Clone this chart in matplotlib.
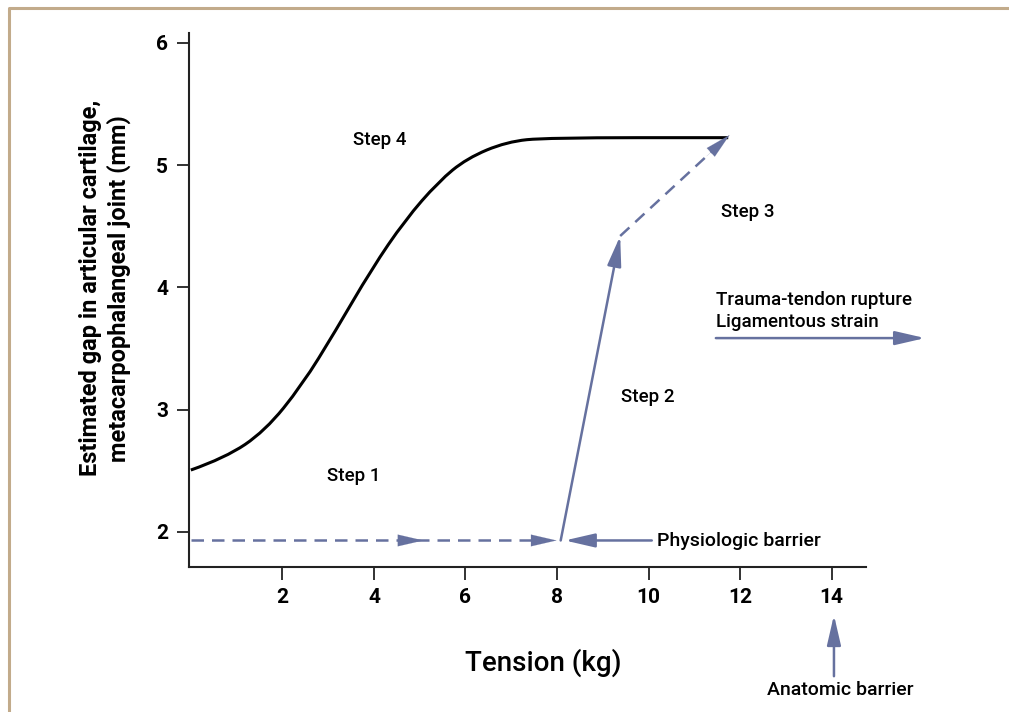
import matplotlib.pyplot as plt
from matplotlib.lines import Line2D
from matplotlib.path import Path
from matplotlib.patches import PathPatch

# curve (tension kg, gap mm)
tension = [0.0, 0.75, 1.62, 2.43, 3.15, 3.95, 4.68, 5.41, 6.03, 6.90, 7.78, 11.74]
gap = [2.506, 2.605, 2.825, 3.201, 3.637, 4.150, 4.550, 4.864, 5.055, 5.191, 5.224, 5.224]

# step path
step1_y = 1.93
step1_x = [0.0, 5.08, 7.99]
step2 = [(8.08, 1.93), (9.38, 4.42)]
step3 = [(9.38, 4.42), (11.77, 5.246)]

x_ticks = [2, 4, 6, 8, 10, 12, 14]
y_ticks = [2, 3, 4, 5, 6]

steps = {"Step 1": (3.57, 2.46), "Step 2": (9.99, 3.10), "Step 3": (12.17, 4.62), "Step 4": (4.13, 5.205)}

blue = "#66719f"
plt.rcParams['font.family'] = ['Roboto', 'DejaVu Sans']

fig = plt.figure(figsize=(10.09, 7.12), dpi=100)
ax = fig.add_axes([189 / 1009, 1 - 567 / 712, (866 - 189) / 1009, (567 - 33) / 712])

# smooth curve: read points used as quadratic bezier controls
pts = list(zip(tension, gap))
verts = [pts[0]]
codes = [Path.MOVETO]
for i in range(1, len(pts) - 1):
    mid = ((pts[i][0] + pts[i + 1][0]) / 2, (pts[i][1] + pts[i + 1][1]) / 2)
    verts += [pts[i], mid]
    codes += [Path.CURVE3, Path.CURVE3]
verts.append(pts[-1])
codes.append(Path.LINETO)
ax.add_patch(PathPatch(Path(verts, codes), fill=False, edgecolor="black", lw=2.2, capstyle="butt"))

head = "-|>,head_length=1.3,head_width=0.3"
ms = 14

# step 1 : dashed with two heads
ax.plot([step1_x[0], step1_x[2] - 0.3], [step1_y, step1_y], color=blue, lw=1.8, dashes=(5, 3.2))
for tip in step1_x[1:]:
    ax.annotate("", xy=(tip, step1_y), xytext=(tip - 0.5, step1_y),
                arrowprops=dict(arrowstyle=head, color=blue, lw=0.1, mutation_scale=ms,
                                shrinkA=0, shrinkB=0))

# step 2 : solid
ax.annotate("", xy=step2[1], xytext=step2[0],
            arrowprops=dict(arrowstyle=head, color=blue, lw=1.8, mutation_scale=ms, shrinkA=0, shrinkB=0))

# step 3 : dashed
ax.plot([step3[0][0], step3[1][0] - 0.3], [step3[0][1], step3[1][1] - 0.104], color=blue, lw=1.8,
        dashes=(5, 3.2))
ax.annotate("", xy=step3[1], xytext=(step3[1][0] - 0.5, step3[1][1] - 0.173),
            arrowprops=dict(arrowstyle=head, color=blue, lw=0.1, mutation_scale=ms, shrinkA=0, shrinkB=0))

# physiologic barrier
ax.annotate("", xy=(8.17, 1.93), xytext=(10.07, 1.93),
            arrowprops=dict(arrowstyle=head, color=blue, lw=1.8, mutation_scale=ms, shrinkA=0, shrinkB=0))
ax.text(10.18, 1.925, "Physiologic barrier", fontsize=14, fontweight="medium", va="center", ha="left")

# trauma arrow (outside the axes on the right)
ax.annotate("", xy=(16.04, 3.585), xytext=(11.47, 3.585), annotation_clip=False,
            arrowprops=dict(arrowstyle=head, color=blue, lw=1.8, mutation_scale=ms, shrinkA=0, shrinkB=0))
ax.text(11.47, 3.896, "Trauma-tendon rupture", fontsize=13.5, fontweight="medium", va="center", ha="left")
ax.text(11.47, 3.716, "Ligamentous strain", fontsize=13.5, fontweight="medium", va="center", ha="left")

# anatomic barrier
ax.annotate("", xy=(14.05, 1.32), xytext=(14.05, 0.82), annotation_clip=False,
            arrowprops=dict(arrowstyle=head, color=blue, lw=1.8, mutation_scale=ms, shrinkA=0, shrinkB=0))
ax.text(14.18, 0.706, "Anatomic barrier", fontsize=14, fontweight="medium", va="center", ha="center")

for name, (sx, sy) in steps.items():
    ax.text(sx, sy, name, fontsize=13.5, fontweight="medium", ha="center", va="center")

ax.set_xlim(-0.04, 14.75)
ax.set_ylim(1.713, 6.08)
ax.set_xticks(x_ticks)
ax.set_yticks(y_ticks)
ax.tick_params(length=9, width=1.3, labelsize=15, color="#222222", pad=6)
for lab in ax.get_xticklabels() + ax.get_yticklabels():
    lab.set_fontweight("bold")
for s in ["top", "right"]:
    ax.spines[s].set_visible(False)
for s in ["left", "bottom"]:
    ax.spines[s].set_linewidth(1.5)
    ax.spines[s].set_color("#222222")

ax.set_xlabel("Tension (kg)", fontsize=20, fontweight="medium", labelpad=30)
ax.xaxis.label.set_x(0.524)
ax.set_ylabel("Estimated gap in articular cartilage,\nmetacarpophalangeal joint (mm)",
              fontsize=17, fontweight="bold", labelpad=18, linespacing=1.25)
ax.yaxis.label.set_y(0.522)

# tan border on top and left
bc = "#c2ab8b"
fig.add_artist(Line2D([9 / 1009, 9 / 1009, 1.0], [0.0, 1 - 8 / 712, 1 - 8 / 712],
                      transform=fig.transFigure, color=bc, lw=2.2))

fig.savefig("out.png", dpi=100)
